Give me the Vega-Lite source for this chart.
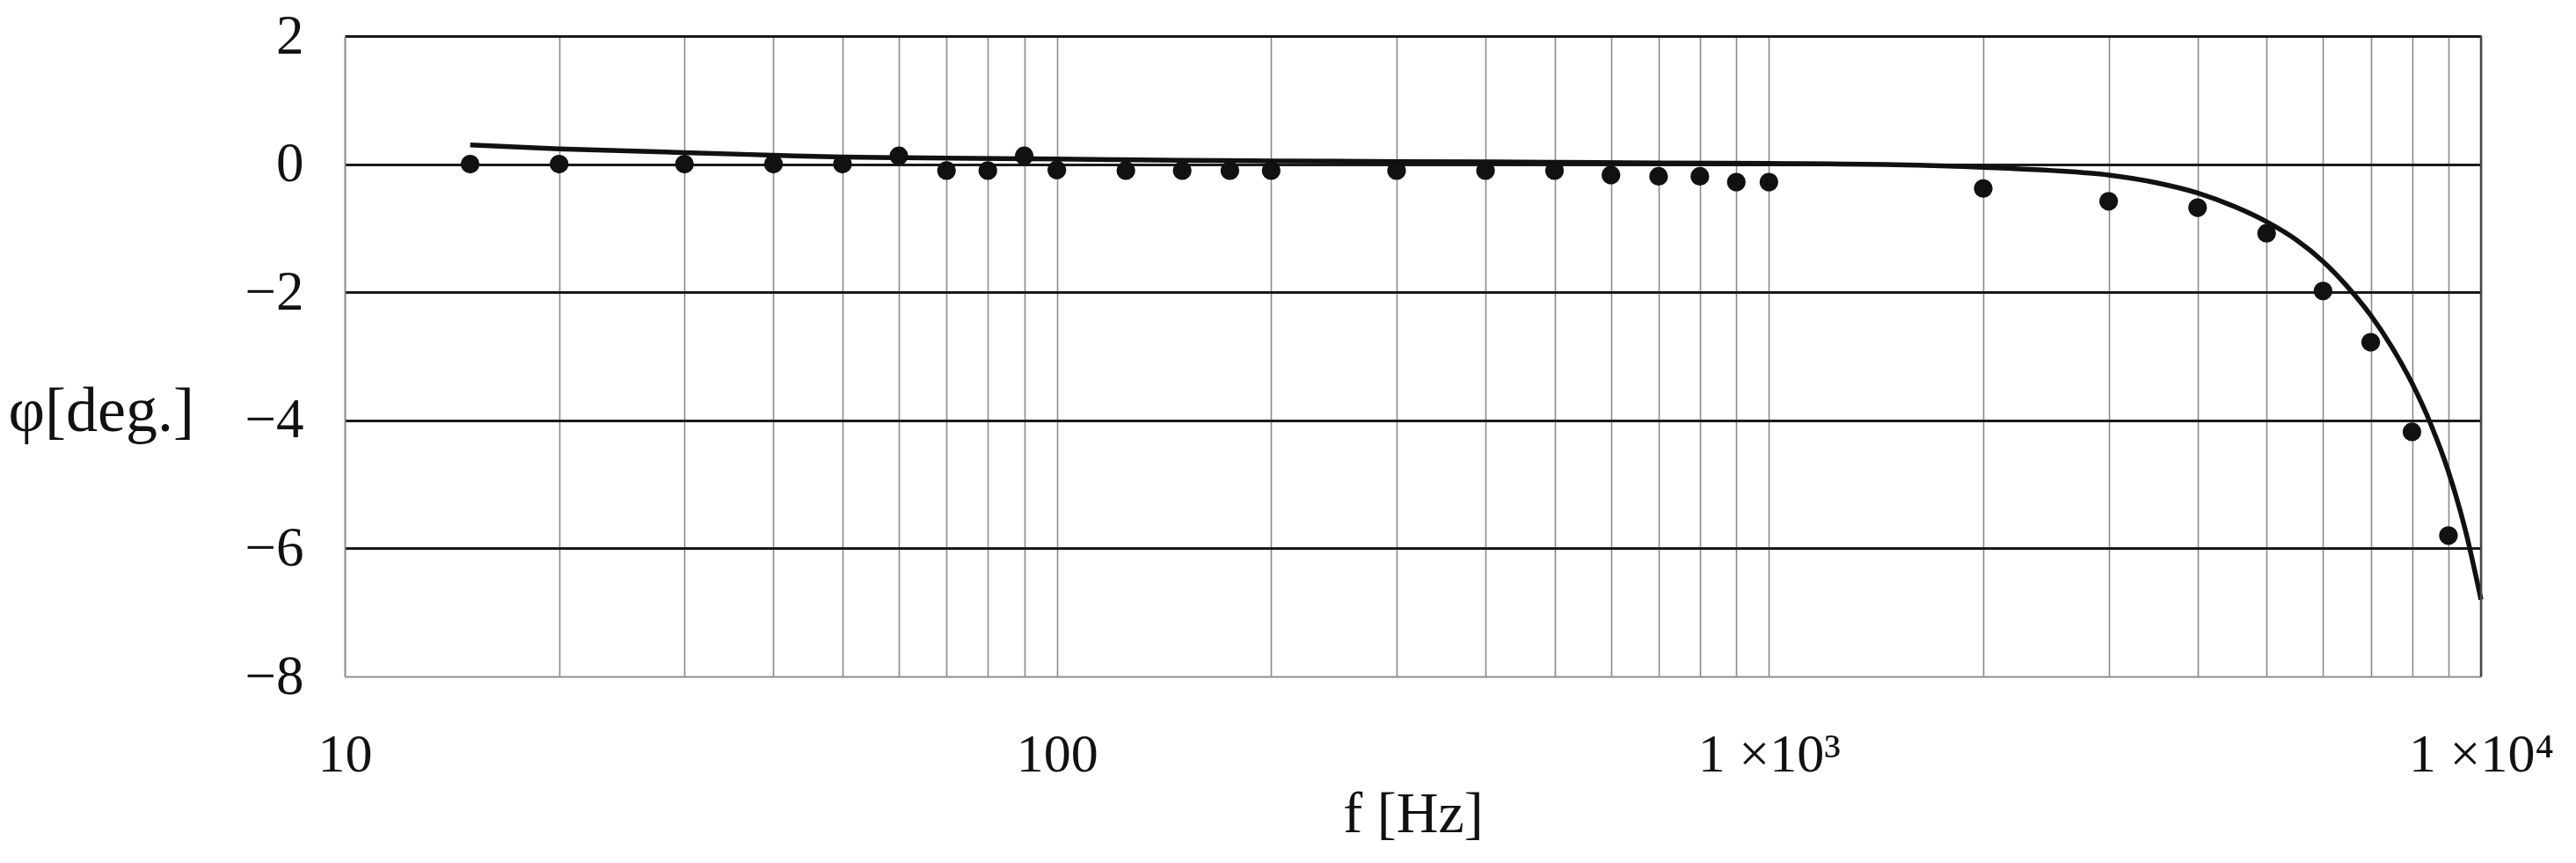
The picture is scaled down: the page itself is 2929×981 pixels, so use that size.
{
  "$schema": "https://vega.github.io/schema/vega-lite/v6.json",
  "autosize": "none",
  "width": 2429,
  "height": 728,
  "padding": {"left": 392, "top": 41, "right": 108, "bottom": 212},
  "background": "white",
  "config": {
    "view": {"stroke": null},
    "font": "Liberation Serif",
    "axis": {"labelFont": "Liberation Serif", "titleFont": "Liberation Serif", "labelColor": "#111", "titleColor": "#111"}
  },
  "datasets": {
    "points": [
      {"f": 15, "phi": 0.0}, {"f": 20, "phi": 0.0}, {"f": 30, "phi": 0.0}, {"f": 40, "phi": 0.0},
      {"f": 50, "phi": 0.0}, {"f": 60, "phi": 0.13}, {"f": 70, "phi": -0.1}, {"f": 80, "phi": -0.1},
      {"f": 90, "phi": 0.13}, {"f": 100, "phi": -0.09}, {"f": 125, "phi": -0.1}, {"f": 150, "phi": -0.1},
      {"f": 175, "phi": -0.1}, {"f": 200, "phi": -0.1}, {"f": 300, "phi": -0.1}, {"f": 400, "phi": -0.1},
      {"f": 500, "phi": -0.1}, {"f": 600, "phi": -0.17}, {"f": 700, "phi": -0.19}, {"f": 800, "phi": -0.19},
      {"f": 900, "phi": -0.28}, {"f": 1000, "phi": -0.28}, {"f": 2000, "phi": -0.38}, {"f": 3000, "phi": -0.58},
      {"f": 4000, "phi": -0.68}, {"f": 5000, "phi": -1.08}, {"f": 6000, "phi": -1.98}, {"f": 7000, "phi": -2.78},
      {"f": 8000, "phi": -4.18}, {"f": 9000, "phi": -5.8}
    ],
    "curve": [
      {"f": 15, "phi": 0.30}, {"f": 20, "phi": 0.24}, {"f": 30, "phi": 0.18}, {"f": 40, "phi": 0.14},
      {"f": 50, "phi": 0.11}, {"f": 70, "phi": 0.095}, {"f": 100, "phi": 0.08}, {"f": 150, "phi": 0.06},
      {"f": 200, "phi": 0.05}, {"f": 300, "phi": 0.04}, {"f": 500, "phi": 0.03}, {"f": 700, "phi": 0.02},
      {"f": 1000, "phi": 0.01}, {"f": 1500, "phi": -0.01}, {"f": 2000, "phi": -0.05}, {"f": 2500, "phi": -0.10},
      {"f": 3000, "phi": -0.17}, {"f": 3500, "phi": -0.29}, {"f": 4000, "phi": -0.45}, {"f": 4500, "phi": -0.66},
      {"f": 5000, "phi": -0.90}, {"f": 5500, "phi": -1.18}, {"f": 6000, "phi": -1.52}, {"f": 6500, "phi": -1.92},
      {"f": 7000, "phi": -2.36}, {"f": 7500, "phi": -2.86}, {"f": 8000, "phi": -3.42}, {"f": 8500, "phi": -4.06},
      {"f": 9000, "phi": -4.80}, {"f": 9500, "phi": -5.70}, {"f": 10000, "phi": -6.8}
    ]
  },
  "layer": [
    {
      "data": {"name": "curve"},
      "mark": {"type": "line", "color": "#111", "strokeWidth": 5.5, "interpolate": "monotone", "clip": false},
      "encoding": {
        "x": {
          "field": "f", "type": "quantitative",
          "scale": {"type": "log", "domain": [10, 10000], "nice": false},
          "axis": {
            "values": [10,20,30,40,50,60,70,80,90,100,200,300,400,500,600,700,800,900,1000,2000,3000,4000,5000,6000,7000,8000,9000,10000],
            "labelExpr": "datum.value == 10 ? '10' : datum.value == 100 ? '100' : datum.value == 1000 ? '1 ×10³' : datum.value == 10000 ? '1 ×10⁴' : ''",
            "grid": true, "gridColor": "#8a8a8a", "gridWidth": 1.6,
            "domain": true, "domainColor": "#8a8a8a", "domainWidth": 1.6,
            "ticks": false, "labelFontSize": 62, "labelPadding": 58, "labelOverlap": false, "labelFlush": false,
            "title": "f [Hz]", "titleFontSize": 66, "titleFontWeight": "normal",
            "titleBaseline": "middle", "titleY": 156
          }
        },
        "y": {
          "field": "phi", "type": "quantitative",
          "scale": {"domain": [-8, 2], "nice": false, "zero": false},
          "axis": {
            "values": [-8, -6, -4, -2, 0, 2],
            "format": "d",
            "grid": true,
            "gridColor": {"condition": {"test": "datum.value == -8", "value": "#8a8a8a"}, "value": "#1a1a1a"},
            "gridWidth": {"condition": {"test": "datum.value == -8", "value": 1.6}, "value": 3},
            "domain": true, "domainColor": "#8a8a8a", "domainWidth": 1.6,
            "ticks": false, "labelFontSize": 63, "labelPadding": 47,
            "title": "φ[deg.]", "titleFontSize": 72, "titleFontWeight": "normal",
            "titleAngle": 0, "titleAlign": "left", "titleBaseline": "middle",
            "titleX": -383, "titleY": 426
          }
        }
      }
    },
    {
      "data": {"name": "points"},
      "mark": {"type": "point", "filled": true, "shape": "circle", "size": 450, "color": "#111", "opacity": 1},
      "encoding": {
        "x": {"field": "f", "type": "quantitative"},
        "y": {"field": "phi", "type": "quantitative"}
      }
    },
    {
      "data": {"values": [{"f": 10000}]},
      "mark": {"type": "rule", "color": "#444", "strokeWidth": 2.5},
      "encoding": {
        "x": {"field": "f", "type": "quantitative"}
      }
    }
  ]
}
